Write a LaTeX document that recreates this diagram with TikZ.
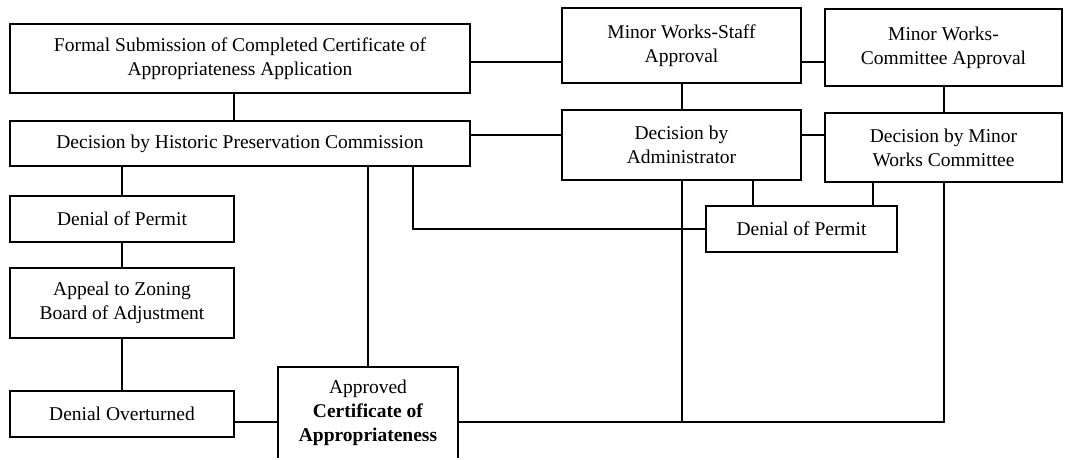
\documentclass[tikz,border=0pt]{standalone}
\usepackage{fontspec}
\setmainfont{Liberation Serif}
\usetikzlibrary{positioning}
\tikzset{>=latex}
\tikzset{stage/.style={draw, rectangle, line width=1.6pt, align=center, inner sep=0pt, font=\fontsize{19.5}{24}\selectfont},
  link/.style={line width=1.6pt}}

\begin{document}
\begin{tikzpicture}[x=1pt, y=-1pt]
      \useasboundingbox (0,0) rectangle (1066,459);
      \clip (0,-10) rectangle (1066,457);
      \node[stage, minimum width=460pt, minimum height=69pt] (sub) at (240,58.5) {Formal Submission of Completed Certificate of\\Appropriateness Application};
      \node[stage, minimum width=460pt, minimum height=45pt] (hpc) at (240,143.5) {Decision by Historic Preservation Commission};
      \node[stage, minimum width=239pt, minimum height=75pt] (staff) at (681.5,45.5) {Minor Works-Staff\\Approval};
      \node[stage, minimum width=237pt, minimum height=77pt] (comm) at (943.5,47.5) {Minor Works-\\Committee Approval};
      \node[stage, minimum width=239pt, minimum height=70pt] (admin) at (681.5,145) {Decision by\\Administrator};
      \node[stage, minimum width=237pt, minimum height=69pt] (mwc) at (943.5,147.5) {Decision by Minor\\Works Committee};
      \node[stage, minimum width=224pt, minimum height=46pt] (den1) at (122,219) {Denial of Permit};
      \node[stage, minimum width=224pt, minimum height=70pt] (appeal) at (122,303) {Appeal to Zoning\\Board of Adjustment};
      \node[stage, minimum width=224pt, minimum height=46pt] (over) at (122,414) {Denial Overturned};
      \node[stage, minimum width=180pt, minimum height=92pt] (cert) at (368,413) {Approved\\\textbf{Certificate of}\\\textbf{Appropriateness}};
      \node[stage, minimum width=191pt, minimum height=46pt] (den2) at (801.5,229) {Denial of Permit};
      \coordinate (row1) at (0,62);
      \coordinate (row2) at (0,135);
      \coordinate (low) at (0,422);
      \coordinate (split) at (413,0);
      \coordinate (adm1) at (682,0);
      \coordinate (adm2) at (753,0);
      \coordinate (mwc1) at (944,0);
      \coordinate (mwc2) at (873,0);
      \draw[link] ([xshift=-6pt]sub.south) -- ([xshift=-6pt]hpc.north);
      \draw[link] (sub.east |- row1) -- (staff.west |- row1);
      \draw[link] (staff.east |- row1) -- (comm.west |- row1);
      \draw[link] (adm1 |- staff.south) -- (adm1 |- admin.north);
      \draw[link] (mwc1 |- comm.south) -- (mwc1 |- mwc.north);
      \draw[link] (hpc.east |- row2) -- (admin.west |- row2);
      \draw[link] (admin.east |- row2) -- (mwc.west |- row2);
      \draw[link] (den1.north |- hpc.south) -- (den1.north);
      \draw[link] (den1) -- (appeal);
      \draw[link] (appeal) -- (over);
      \draw[link] (cert.north |- hpc.south) -- (cert.north);
      \draw[link] (split |- hpc.south) |- (den2.west);
      \draw[link] (adm2 |- admin.south) -- (adm2 |- den2.north);
      \draw[link] (mwc2 |- mwc.south) -- (mwc2 |- den2.north);
      \draw[link] (over.east |- low) -- (cert.west |- low);
      \draw[link] (adm1 |- admin.south) -- (adm1 |- low);
      \draw[link] (cert.east |- low) -| (mwc1 |- mwc.south);
    \end{tikzpicture}
\end{document}
